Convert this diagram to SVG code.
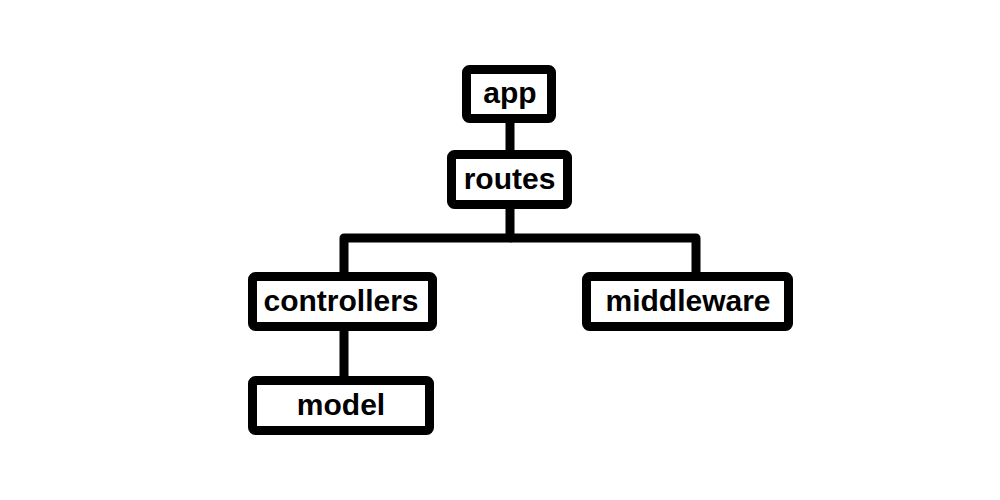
<svg xmlns="http://www.w3.org/2000/svg" width="1000" height="500" viewBox="0 0 1000 500">
<style>
.box{fill:#fff;stroke:#000;stroke-width:9;stroke-linejoin:round}
.lbl{font-family:"Liberation Sans",Arial,sans-serif;font-weight:bold;font-size:30px;fill:#000;text-anchor:middle}
.con{fill:none;stroke:#000;stroke-width:9;stroke-linejoin:round}
</style>
<rect width="1000" height="500" fill="#fff"/>
<g id="connectors">
<path class="con" d="M510 119V153"/>
<path class="con" d="M510 205V238H344V276"/>
<path class="con" d="M510 238H696V276"/>
<path class="con" d="M344 328V380"/>
</g>
<g id="app"><rect class="box" x="466.5" y="69.5" width="85" height="49" rx="3"/><text class="lbl" x="510" y="103">app</text></g>
<g id="routes"><rect class="box" x="451.5" y="154.5" width="116" height="50" rx="3"/><text class="lbl" x="509.5" y="189">routes</text></g>
<g id="controllers"><rect class="box" x="252.5" y="276.5" width="180" height="50" rx="3"/><text class="lbl" x="341" y="311">controllers</text></g>
<g id="middleware"><rect class="box" x="586.5" y="276.5" width="202" height="50" rx="3"/><text class="lbl" x="688" y="311">middleware</text></g>
<g id="model"><rect class="box" x="252.5" y="380.5" width="177" height="50" rx="3"/><text class="lbl" x="341" y="415">model</text></g>
</svg>
